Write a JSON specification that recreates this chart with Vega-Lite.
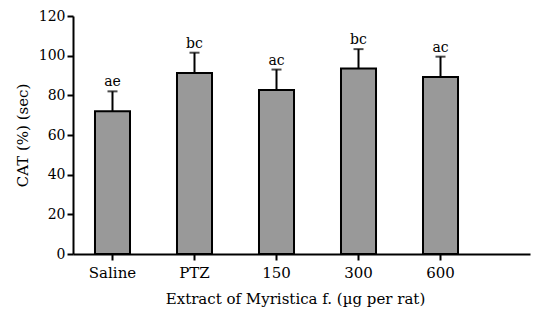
{
  "$schema": "https://vega.github.io/schema/vega-lite/v6.json",
  "autosize": "none",
  "padding": {"left": 73, "top": 16, "right": 4, "bottom": 57},
  "width": 457,
  "height": 238,
  "background": "white",
  "config": {
    "view": {"stroke": null},
    "font": "DejaVu Serif",
    "text": {"font": "DejaVu Serif"},
    "axis": {
      "domainColor": "black", "domainWidth": 2, "tickColor": "black", "tickWidth": 2,
      "labelColor": "black", "titleColor": "black", "labelFont": "DejaVu Serif",
      "titleFont": "DejaVu Serif", "titleFontWeight": "normal", "grid": false, "labelOverlap": false
    }
  },
  "data": {"values": [
    {"group": "Saline", "mean": 72, "err": 82, "sig": "ae"},
    {"group": "PTZ", "mean": 91.2, "err": 101.5, "sig": "bc"},
    {"group": "150", "mean": 82.7, "err": 93, "sig": "ac"},
    {"group": "300", "mean": 93.5, "err": 103.3, "sig": "bc"},
    {"group": "600", "mean": 89.3, "err": 99.5, "sig": "ac"}
  ]},
  "encoding": {
    "x": {
      "field": "group", "type": "nominal", "sort": null,
      "scale": {"paddingInner": 0.573, "paddingOuter": 0.573, "align": 0.234},
      "axis": {"title": "Extract of Myristica f. (µg per rat)", "labelAngle": 0, "labelFontSize": 15, "titleFontSize": 15, "tickSize": 6, "labelPadding": 5, "titlePadding": 11, "titleX": 222}
    },
    "y": {
      "field": "mean", "type": "quantitative",
      "scale": {"domain": [0, 120], "nice": false},
      "axis": {"title": "CAT (%) (sec)", "values": [0, 20, 40, 60, 80, 100, 120], "labelFontSize": 14, "titleFontSize": 15, "tickSize": 6, "labelPadding": 2, "titlePadding": 8}
    }
  },
  "layer": [
    {
      "mark": {"type": "rule", "stroke": "black", "strokeWidth": 2},
      "encoding": {
        "y2": {"field": "err"}
      }
    },
    {
      "mark": {"type": "tick", "color": "black", "thickness": 2, "size": 10, "orient": "horizontal"},
      "encoding": {
        "y": {"field": "err", "type": "quantitative"}
      }
    },
    {
      "mark": {"type": "bar", "fill": "#999999", "stroke": "black", "strokeWidth": 2}
    },
    {
      "mark": {"type": "text", "baseline": "bottom", "dy": -2, "fontSize": 14, "font": "DejaVu Serif", "color": "black"},
      "encoding": {
        "y": {"field": "err", "type": "quantitative"},
        "text": {"field": "sig"}
      }
    }
  ]
}
